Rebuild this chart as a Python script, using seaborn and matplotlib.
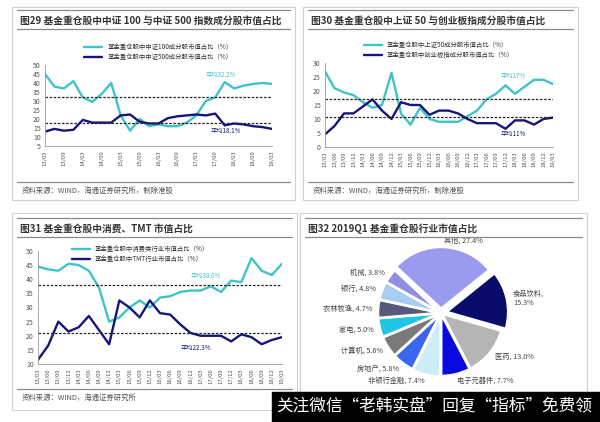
import numpy as np
import pandas as pd
import matplotlib
matplotlib.use("Agg")
import matplotlib.pyplot as plt
import seaborn as sns
from matplotlib.patches import Rectangle
from matplotlib.lines import Line2D

sns.set_theme(style="white")
plt.rcParams['font.family'] = ['Noto Sans CJK SC', 'DejaVu Sans']
plt.rcParams['axes.unicode_minus'] = False

# quarters 13/03 .. 19/03
quarters = ["13/03", "13/06", "13/09", "13/12", "14/03", "14/06", "14/09", "14/12",
            "15/03", "15/06", "15/09", "15/12", "16/03", "16/06", "16/09", "16/12",
            "17/03", "17/06", "17/09", "17/12", "18/03", "18/06", "18/09", "18/12", "19/03"]

# fig 29
csi100 = [45, 38, 37, 41, 32, 29.5, 34, 40, 22, 13.5, 20, 16, 17, 16, 16, 18,
          22, 30, 32, 40.5, 37, 38.5, 39.5, 40, 39.5]
csi500 = [13, 14.5, 13.5, 14, 19.5, 18, 18, 18, 22, 22.5, 18.5, 17.5, 17.5, 20.5, 21.5, 22,
          22.5, 22, 23, 16.5, 17.5, 17, 16, 15.5, 14.5]
avg29 = [32.5, 18]
# fig 30
sse50 = [27, 21, 19.5, 18.5, 16, 14, 15, 26.5, 12, 8, 14, 10, 9, 9, 9, 11,
         13, 17, 19, 22, 19, 21.5, 24, 24, 22.5]
chinext = [4.5, 7.5, 12, 12, 14.5, 17, 13, 10, 16, 15, 15, 11.5, 13, 13, 12, 10,
           8.5, 8.5, 8.5, 6.5, 9.5, 9.5, 8, 10, 10.5]
avg30 = [17.3, 10.8]
# fig 31
consume = [44.5, 43.5, 43, 45.5, 45, 43, 37, 25, 26.5, 30, 32.5, 30, 33.5, 34, 35.5, 36,
           36, 37.5, 35.5, 39.5, 39, 47.5, 43, 41.5, 45.5]
tmt = [11.5, 16.5, 25, 21.5, 23, 27, 22, 17, 32.5, 30, 26.5, 32.5, 28, 27.5, 24, 21,
       20, 20, 20, 18, 20.5, 19.5, 17, 18.5, 19.5]
avg31 = [38, 21]
# fig 32
industries = ["其他", "食品饮料", "医药", "电子元器件", "非银行金融", "房地产",
              "计算机", "家电", "农林牧渔", "银行", "机械"]
shares = [27.4, 15.3, 13.0, 7.7, 7.4, 5.8, 5.6, 5.0, 4.7, 4.8, 3.8]
pie_colors = ["#9a9aee", "#0b0b6a", "#b5b5b5", "#0a0ae0", "#cdeef6", "#3a66ee",
              "#7a7a7a", "#20c4e4", "#575a7e", "#a8cdf2", "#8f8fe2"]

TEAL = "#3fc3c6"
NAVY = "#16167a"
W, H = 600, 422

fig = plt.figure(figsize=(6, 4.22), dpi=100)
fig.patch.set_facecolor("white")


def px_axes(x0, y0, x1, y1, **kw):
    return fig.add_axes([x0 / W, 1 - y1 / H, (x1 - x0) / W, (y1 - y0) / H], **kw)


def hline(x0, x1, y, color="#8a8a8a", lw=0.9):
    fig.add_artist(Line2D([x0 / W, x1 / W], [1 - y / H, 1 - y / H], color=color, lw=lw))


def panel(x0, y0, x1, y1, title, ytitle, yfoot, foot):
    fig.add_artist(Rectangle((x0 / W, 1 - y1 / H), (x1 - x0) / W, (y1 - y0) / H,
                             fill=False, edgecolor="#d0d0d0", lw=0.8))
    hline(x0 + 5, x1 - 5, ytitle - 11)
    hline(x0 + 5, x1 - 5, ytitle + 8)
    fig.text((x0 + 8) / W, 1 - ytitle / H, title, fontsize=7, fontweight="bold",
             color="#333333", va="center")
    if foot:
        hline(x0 + 5, x1 - 5, yfoot - 9)
        fig.text((x0 + 10) / W, 1 - yfoot / H, foot, fontsize=5.3, color="#555555", va="center")


def line_chart(ax, s1, s2, names, avgs, ylim, yticks, xt_step, lab1, lab2, lab_pos):
    df = pd.DataFrame({"idx": np.arange(len(quarters)), names[0]: s1, names[1]: s2})
    long = df.melt(id_vars="idx", var_name="series", value_name="val")
    sns.lineplot(data=long, x="idx", y="val", hue="series", palette=[TEAL, NAVY],
                 linewidth=1.7, ax=ax, legend=False)
    for a in avgs:
        ax.axhline(a, color="#222222", lw=0.9, ls=(0, (2, 1.3)))
    ax.set_xlim(0, len(quarters) - 1)
    ax.set_ylim(*ylim)
    ax.set_yticks(yticks)
    ax.set_yticklabels([str(v) for v in yticks], fontsize=5, color="#555555")
    ticks = list(range(0, len(quarters), xt_step))
    ax.set_xticks(ticks)
    ax.set_xticklabels([quarters[i] for i in ticks], rotation=90, fontsize=4.3, color="#555555")
    ax.set_xlabel("")
    ax.set_ylabel("")
    ax.tick_params(axis="both", length=1.5, pad=1.5, width=0.5, colors="#888888")
    for lbl in ax.get_xticklabels() + ax.get_yticklabels():
        lbl.set_color("#555555")
    for sp in ["top", "right"]:
        ax.spines[sp].set_visible(False)
    ax.spines["left"].set_color("#9a9a9a")
    ax.spines["bottom"].set_color("#9a9a9a")
    ax.spines["left"].set_linewidth(0.6)
    ax.spines["bottom"].set_linewidth(0.6)
    ax.set_facecolor("white")
    ax.text(lab_pos[0][0], lab_pos[0][1], lab1, fontsize=4.5, color=TEAL)
    ax.text(lab_pos[1][0], lab_pos[1][1], lab2, fontsize=4.5, color=NAVY)
    handles = [Line2D([], [], color=TEAL, lw=1.7), Line2D([], [], color=NAVY, lw=1.7)]
    leg = ax.legend(handles, names, loc="lower center", bbox_to_anchor=(0.5, 1.0),
                    frameon=False, fontsize=4.6, handlelength=2.8, labelspacing=0.3,
                    borderaxespad=0.2)
    for t in leg.get_texts():
        t.set_color("#333333")


# panel 29
panel(12, 7, 295, 200, "图29 基金重仓股中中证 100 与中证 500 指数成分股市值占比", 21, 191,
      "资料来源：WIND，海通证券研究所，制除港股")
ax1 = px_axes(45, 65, 272, 146)
line_chart(ax1, csi100, csi500,
           ["基金重仓股中中证100成分股市值占比（%）", "基金重仓股中中证500成分股市值占比（%）"],
           avg29, (5, 50), list(range(5, 51, 5)), 2, "平均32.2%", "平均18.1%",
           [(17, 43.5), (17.5, 12.5)])

# panel 30
panel(303, 7, 578, 200, "图30 基金重仓股中上证 50 与创业板指成分股市值占比", 21, 191,
      "资料来源：WIND，海通证券研究所，制除港股")
ax2 = px_axes(325, 63, 553, 147)
line_chart(ax2, sse50, chinext,
           ["基金重仓股中上证50成分股市值占比（%）", "基金重仓股中创业板指成分股市值占比（%）"],
           avg30, (0, 30), list(range(0, 31, 5)), 1, "平均17%", "平均11%",
           [(18.5, 24.5), (18.5, 4)])

# panel 31
panel(12, 213, 297, 410, "图31 基金重仓股中消费、TMT 市值占比", 229, 398,
      "资料来源：WIND，海通证券研究所")
ax3 = px_axes(38, 251, 282, 364)
line_chart(ax3, consume, tmt,
           ["基金重仓股中消费类行业市值占比（%）", "基金重仓股中TMT行业市值占比（%）"],
           avg31, (10, 50), list(range(10, 51, 5)), 1, "平均38.0%", "平均22.3%",
           [(15, 40.5), (14, 15)])
ax3.get_legend().set_bbox_to_anchor((0.42, 0.86))

# panel 32
panel(300, 213, 587, 412, "图32 2019Q1 基金重仓股行业市值占比", 229, 0, "")
ax4 = px_axes(370, 242, 512, 384)
explode = [0.07, 0.09, 0.02, 0.02, 0.03, 0.02, 0.02, 0.02, 0.02, 0.02, 0.02]
labels = [f"{n}, {v:.1f}%" for n, v in zip(industries, shares)]
labels[1] = f"{industries[1]},\n{shares[1]:.1f}%"
wedges, texts = ax4.pie(shares, colors=pie_colors, explode=explode, startangle=137,
                        counterclock=False, labels=labels, labeldistance=1.1,
                        wedgeprops=dict(edgecolor="white", linewidth=1.8),
                        textprops=dict(fontsize=5.2, color="#444444"))
ax4.set_xlim(-1.15, 1.15)
ax4.set_ylim(-1.15, 1.15)
ax4.set_aspect("equal")

# banner at bottom right
fig.add_artist(Rectangle((272 / W, 0), (W - 272) / W, 30 / H, color="black", zorder=10))
fig.text(276 / W, 15 / H, "关注微信\u201c老韩实盘\u201d回复\u201c指标\u201d免费领", fontsize=12,
         color="white", va="center", ha="left", zorder=11)

fig.savefig("out.png", dpi=100, facecolor="white")
